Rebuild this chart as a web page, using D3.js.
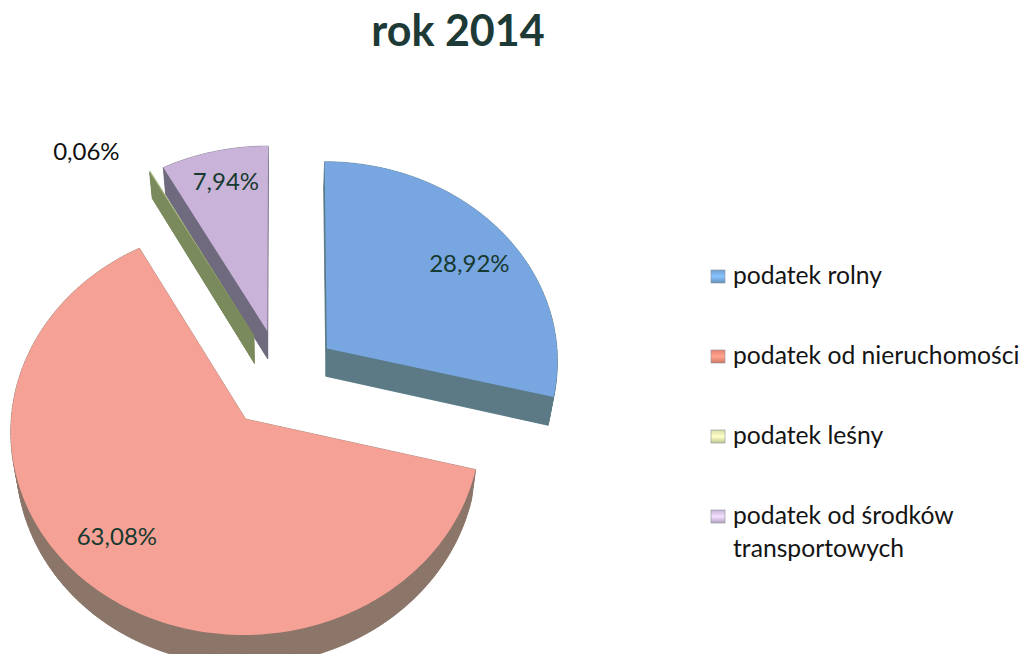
<!DOCTYPE html>
<html>
<head>
<meta charset="utf-8">
<script src="https://cdn.jsdelivr.net/npm/d3@7"></script>
<style>
  html, body { margin: 0; padding: 0; background: #fff; }
  svg { display: block; font-family: Lato, "Open Sans", sans-serif; }
</style>
</head>
<body>
<div id="chart"></div>
<script>
// Chart values
const chartTitle = "rok 2014";
const categories = ["podatek rolny", "podatek od nieruchomości", "podatek leśny", "podatek od środków transportowych"];
const values = [28.92, 63.08, 0.06, 7.94];
const valueLabels = ["28,92%", "63,08%", "0,06%", "7,94%"];

// Styles per slice
const topColors = ["#78a6e0", "#f6a196", "#b4c67e", "#cab3d9"];
const sideColors = ["#5b7a86", "#8c766a", "#7a8a5c", "#6f6a7e"];
const legendColors = ["#6f9fd2", "#e98472", "#d6dda2", "#c6b4d6"];

// Layout of the tilted pie
const width = 1028, height = 654;
const cx = 281.5, cy = 379, radiusX = 232, radiusY = 200;
const explode = 0.25, perspective = 0.0535, depth = 28, bottomShrink = 0.98;
const labelRadius = [0.777, 0.768, 1.26, 0.82];
const labelTurn = [3.2, 5.8, -9.3, 0.8];

const svg = d3.select("#chart").append("svg")
    .attr("width", width)
    .attr("height", height);

const x = d3.scaleLinear().domain([-1, 1]).range([cx - radiusX, cx + radiusX]);
const y = d3.scaleLinear().domain([-1, 1]).range([cy - radiusY, cy + radiusY]);

const pie = d3.pie().sort(null).value(d => d);
const slices = pie(values);

// Flat pie coordinates to screen, front of the pie is nearer so it is bigger
function project(wx, wy, lowered) {
    const w = 1 - perspective * wy;
    let sx = x(wx / w), sy = y(wy / w);
    if (lowered) {
        sx = cx + (sx - cx) * bottomShrink;
        sy += depth / w;
    }
    return [sx, sy];
}

function polar(angle, r) {
    return [r * Math.sin(angle), -r * Math.cos(angle)];
}

// Outline of a slice: apex, then the arc
function outline(s) {
    const mid = (s.startAngle + s.endAngle) / 2;
    const [ox, oy] = polar(mid, explode);
    const steps = Math.max(2, Math.ceil((s.endAngle - s.startAngle) / 0.02));
    const pts = [[ox, oy]];
    d3.range(steps + 1).forEach(i => {
        const a = s.startAngle + (s.endAngle - s.startAngle) * i / steps;
        const [px, py] = polar(a, 1);
        pts.push([ox + px, oy + py]);
    });
    return pts;
}

const line = d3.line().curve(d3.curveLinearClosed);

// Back slices first, pink one last because it is in front
[3, 2, 0, 1].forEach(i => {
    const pts = outline(slices[i]);
    const g = svg.append("g").attr("class", "slice");

    g.append("path")
        .attr("d", line(pts.map(p => project(p[0], p[1], true))))
        .attr("fill", sideColors[i])
        .attr("stroke", sideColors[i])
        .attr("stroke-width", 0.5);

    // Walls between the top and the bottom outline
    pts.forEach((p, j) => {
        const q = pts[(j + 1) % pts.length];
        g.append("path")
            .attr("d", line([
                project(p[0], p[1], false), project(q[0], q[1], false),
                project(q[0], q[1], true), project(p[0], p[1], true)
            ]))
            .attr("fill", sideColors[i])
            .attr("stroke", sideColors[i])
            .attr("stroke-width", 0.5);
    });

    g.append("path")
        .attr("d", line(pts.map(p => project(p[0], p[1], false))))
        .attr("fill", topColors[i]);
});

// Value labels
slices.forEach((s, i) => {
    const mid = (s.startAngle + s.endAngle) / 2;
    const [ox, oy] = polar(mid, explode);
    const [lx, ly] = polar(mid + labelTurn[i] * Math.PI / 180, labelRadius[i]);
    const pos = project(ox + lx, oy + ly, false);
    svg.append("text")
        .attr("x", pos[0])
        .attr("y", pos[1])
        .attr("dy", "0.35em")
        .attr("text-anchor", "middle")
        .attr("font-size", 24)
        .attr("fill", i === 2 ? "#111" : "#173a30")
        .text(valueLabels[i]);
});

// Title
svg.append("text")
    .attr("x", 458)
    .attr("y", 46)
    .attr("text-anchor", "middle")
    .attr("font-size", 43)
    .attr("font-weight", 700)
    .attr("fill", "#1d3a36")
    .text(chartTitle);

// Legend swatches have a light band in the middle
const defs = svg.append("defs");
legendColors.forEach((c, i) => {
    const grad = defs.append("linearGradient")
        .attr("id", "swatch" + i)
        .attr("x1", 0).attr("y1", 0).attr("x2", 0).attr("y2", 1);
    grad.append("stop").attr("offset", "0%").attr("stop-color", c);
    grad.append("stop").attr("offset", "50%").attr("stop-color", d3.color(c).brighter(0.6));
    grad.append("stop").attr("offset", "100%").attr("stop-color", d3.color(c).darker(0.3));
});

// Legend
const legendX = 711, legendTop = 270, legendStep = 80;
const legend = svg.selectAll(".legend-item")
    .data(categories)
    .enter()
    .append("g")
    .attr("class", "legend-item")
    .attr("transform", (d, i) => `translate(${legendX},${legendTop + i * legendStep})`);

legend.append("rect")
    .attr("width", 14)
    .attr("height", 13)
    .attr("fill", (d, i) => `url(#swatch${i})`)
    .attr("stroke", "#8a8f98")
    .attr("stroke-width", 0.6);

legend.append("text")
    .attr("x", 22)
    .attr("y", 14)
    .attr("font-size", 24.7)
    .attr("fill", "#141414")
    .each(function (d) {
        // Long name wraps after "środków"
        const parts = d.length > 25 ? [d.slice(0, d.lastIndexOf(" ")), d.slice(d.lastIndexOf(" ") + 1)] : [d];
        parts.forEach((t, k) => {
            d3.select(this).append("tspan")
                .attr("x", 22)
                .attr("dy", k ? 33 : 0)
                .text(t);
        });
    });
</script>
</body>
</html>
